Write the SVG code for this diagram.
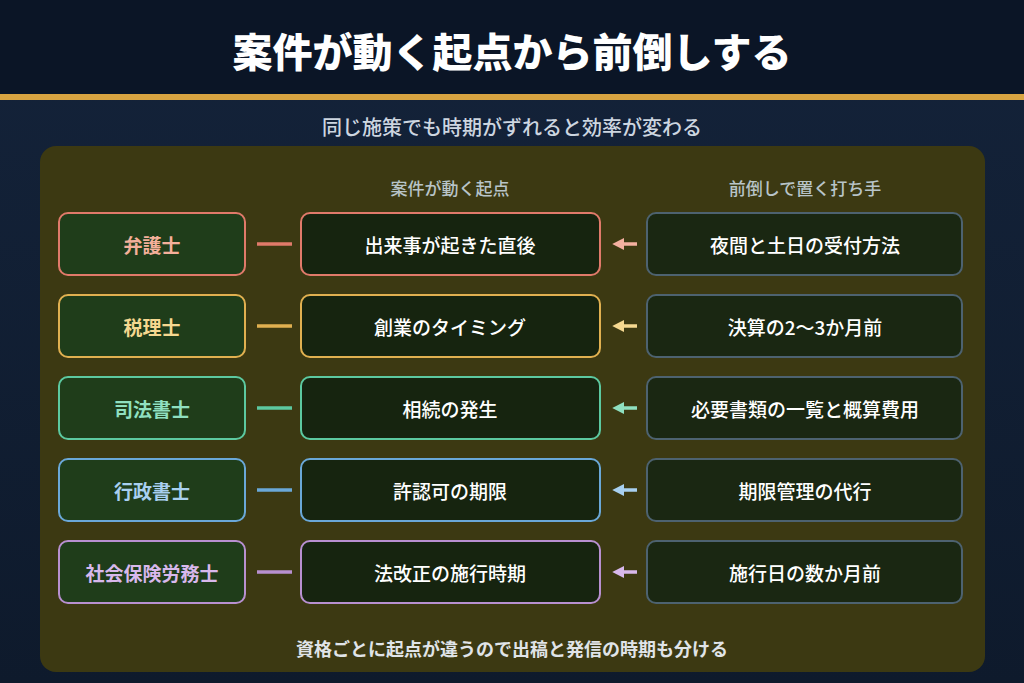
<svg xmlns="http://www.w3.org/2000/svg" width="1024" height="683" viewBox="0 0 1024 683">
<defs>
<linearGradient id="bg" x1="0" y1="0" x2="0" y2="1"><stop offset="0" stop-color="#14233a"/><stop offset="1" stop-color="#0e1a2c"/></linearGradient>
<marker id="ah" viewBox="0 0 10 10" refX="6" refY="5" markerWidth="3.4" markerHeight="3.4" orient="auto"><path d="M0,0 L10,5 L0,10 z" fill="context-stroke"/></marker>
</defs>
<style>
text{font-family:"Noto Sans CJK JP","Noto Sans",sans-serif;text-anchor:middle;dominant-baseline:central}
.l{fill:#1f3d1a;stroke-width:2}
.m{fill:#16240f;stroke-width:2}
.r{fill:#1a2712;stroke:#4d6270;stroke-width:2}
.lt{font-size:19px;font-weight:bold}
.t{font-size:19px;fill:#ffffff;font-weight:500}
.h{font-size:17px;fill:#b8c4c8;font-weight:500}
</style>
<rect width="1024" height="683" fill="url(#bg)"/>
<rect width="1024" height="94" fill="#0b1526"/>
<rect y="94" width="1024" height="6" fill="#d9a441"/>
<text x="512" y="50" font-size="40" font-weight="900" fill="#ffffff">案件が動く起点から前倒しする</text>
<text x="512" y="126" font-size="20" font-weight="500" fill="#cdd6e0">同じ施策でも時期がずれると効率が変わる</text>
<rect x="40" y="146" width="945" height="526" rx="16" fill="#3c3912"/>
<text class="h" x="450" y="187">案件が動く起点</text>
<text class="h" x="805" y="187">前倒しで置く打ち手</text>
<text x="512" y="648" font-size="18" font-weight="bold" fill="#e0e4e8">資格ごとに起点が違うので出稿と発信の時期も分ける</text>
<g id="connectors" stroke-width="3.5">
<line x1="257" y1="244" x2="292" y2="244" stroke="#e07a6a"/>
<line x1="257" y1="326" x2="292" y2="326" stroke="#e0b050"/>
<line x1="257" y1="408" x2="292" y2="408" stroke="#5cc9a0"/>
<line x1="257" y1="490" x2="292" y2="490" stroke="#6aa8d8"/>
<line x1="257" y1="572" x2="292" y2="572" stroke="#b890d0"/>
<line x1="637" y1="244" x2="617" y2="244" stroke="#f4b0a0" marker-end="url(#ah)"/>
<line x1="637" y1="326" x2="617" y2="326" stroke="#f5d890" marker-end="url(#ah)"/>
<line x1="637" y1="408" x2="617" y2="408" stroke="#8fe0c0" marker-end="url(#ah)"/>
<line x1="637" y1="490" x2="617" y2="490" stroke="#a8d0f0" marker-end="url(#ah)"/>
<line x1="637" y1="572" x2="617" y2="572" stroke="#d8b8ec" marker-end="url(#ah)"/>
</g>
<g id="n1"><rect class="l" x="59" y="213" width="186" height="62" rx="9" stroke="#e07a6a"/><text class="lt" x="152" y="244" fill="#f4b09a">弁護士</text></g>
<g id="n1m"><rect class="m" x="301" y="213" width="299" height="62" rx="9" stroke="#e07a6a"/><text class="t" x="450" y="244">出来事が起きた直後</text></g>
<g id="n1r"><rect class="r" x="647" y="213" width="315" height="62" rx="9"/><text class="t" x="805" y="244">夜間と土日の受付方法</text></g>
<g id="n2"><rect class="l" x="59" y="295" width="186" height="62" rx="9" stroke="#e0b050"/><text class="lt" x="152" y="326" fill="#f5d890">税理士</text></g>
<g id="n2m"><rect class="m" x="301" y="295" width="299" height="62" rx="9" stroke="#e0b050"/><text class="t" x="450" y="326">創業のタイミング</text></g>
<g id="n2r"><rect class="r" x="647" y="295" width="315" height="62" rx="9"/><text class="t" x="805" y="326">決算の2〜3か月前</text></g>
<g id="n3"><rect class="l" x="59" y="377" width="186" height="62" rx="9" stroke="#5cc9a0"/><text class="lt" x="152" y="408" fill="#8fe0c0">司法書士</text></g>
<g id="n3m"><rect class="m" x="301" y="377" width="299" height="62" rx="9" stroke="#5cc9a0"/><text class="t" x="450" y="408">相続の発生</text></g>
<g id="n3r"><rect class="r" x="647" y="377" width="315" height="62" rx="9"/><text class="t" x="805" y="408">必要書類の一覧と概算費用</text></g>
<g id="n4"><rect class="l" x="59" y="459" width="186" height="62" rx="9" stroke="#6aa8d8"/><text class="lt" x="152" y="490" fill="#a8d0f0">行政書士</text></g>
<g id="n4m"><rect class="m" x="301" y="459" width="299" height="62" rx="9" stroke="#6aa8d8"/><text class="t" x="450" y="490">許認可の期限</text></g>
<g id="n4r"><rect class="r" x="647" y="459" width="315" height="62" rx="9"/><text class="t" x="805" y="490">期限管理の代行</text></g>
<g id="n5"><rect class="l" x="59" y="541" width="186" height="62" rx="9" stroke="#b890d0"/><text class="lt" x="152" y="572" fill="#d8b8ec">社会保険労務士</text></g>
<g id="n5m"><rect class="m" x="301" y="541" width="299" height="62" rx="9" stroke="#b890d0"/><text class="t" x="450" y="572">法改正の施行時期</text></g>
<g id="n5r"><rect class="r" x="647" y="541" width="315" height="62" rx="9"/><text class="t" x="805" y="572">施行日の数か月前</text></g>
</svg>
